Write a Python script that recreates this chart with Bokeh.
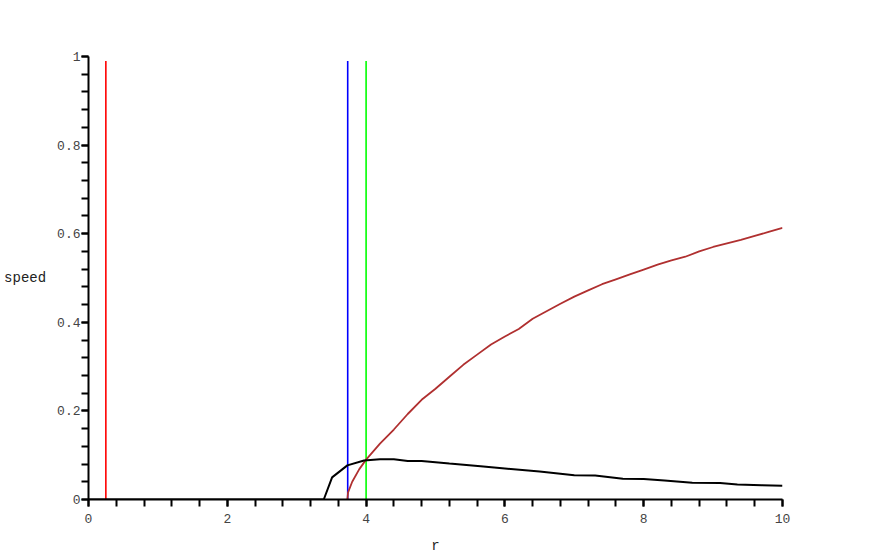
from bokeh.plotting import figure
from bokeh.models import Range1d, SingleIntervalTicker, NumeralTickFormatter
from bokeh.embed import file_html
from bokeh.resources import INLINE

# Red (brown) curve
red_r = [3.73, 3.74, 3.8, 3.9, 4.0, 4.2, 4.4, 4.6, 4.8, 5.0, 5.2, 5.4, 5.6, 5.8, 6.0,
         6.2, 6.4, 6.6, 6.8, 7.0, 7.2, 7.4, 7.6, 7.8, 8.0, 8.2, 8.4, 8.6, 8.8, 9.0,
         9.2, 9.4, 9.6, 9.8, 10.0]
red_speed = [0.0, 0.016, 0.04, 0.068, 0.09, 0.126, 0.158, 0.193, 0.225, 0.25, 0.277,
             0.304, 0.327, 0.35, 0.368, 0.385, 0.408, 0.425, 0.442, 0.458, 0.472,
             0.486, 0.497, 0.508, 0.519, 0.53, 0.54, 0.548, 0.56, 0.57, 0.578,
             0.586, 0.595, 0.604, 0.613]

# Black curve
black_r = [0.0, 3.39, 3.51, 3.73, 3.97, 4.2, 4.4, 4.6, 4.8, 5.2, 5.65, 6.0, 6.5, 7.0,
           7.3, 7.7, 8.0, 8.3, 8.7, 9.1, 9.35, 9.7, 10.0]
black_speed = [0.0, 0.0, 0.05, 0.077, 0.088, 0.091, 0.091, 0.087, 0.087, 0.081, 0.075,
               0.07, 0.063, 0.055, 0.054, 0.047, 0.046, 0.043, 0.038, 0.037, 0.034,
               0.032, 0.031]

# Vertical marker lines
vline_r = [0.25, 3.735, 4.0]
vline_top = [0.99, 0.99, 0.99]
vline_colors = ["#FF0000", "#0000FF", "#00FF00"]

x_major = 2
y_major = 0.2

p = figure(width=862, height=556, output_backend="svg", toolbar_location=None,
           x_range=Range1d(0, 10), y_range=Range1d(0, 1),
           min_border_left=88, min_border_right=80, min_border_top=56,
           min_border_bottom=56)
p.outline_line_color = None
p.xgrid.visible = False
p.ygrid.visible = False

for xr, top, c in zip(vline_r, vline_top, vline_colors):
    p.segment(x0=[xr], y0=[0], x1=[xr], y1=[top], line_color=c, line_width=1.6)

p.line(red_r, red_speed, line_color="#B03030", line_width=1.8)
p.line(black_r, black_speed, line_color="#000000", line_width=2)

font = "Liberation Mono"
p.xaxis.ticker = SingleIntervalTicker(interval=x_major, num_minor_ticks=5)
p.yaxis.ticker = SingleIntervalTicker(interval=y_major, num_minor_ticks=5)
p.yaxis.formatter = NumeralTickFormatter(format="0.[0]")
for ax in (p.xaxis, p.yaxis):
    ax.axis_line_width = 2
    ax.axis_line_color = "black"
    ax.major_tick_line_width = 2
    ax.minor_tick_line_width = 2
    ax.major_tick_in = 0
    ax.minor_tick_in = 0
    ax.major_tick_out = 7
    ax.minor_tick_out = 7
    ax.major_label_text_font = font
    ax.major_label_text_font_size = "13px"
    ax.major_label_text_color = "#444444"
    ax.axis_label_text_font = font
    ax.axis_label_text_font_size = "14px"
    ax.axis_label_text_font_style = "normal"
    ax.axis_label_text_color = "#222222"

p.xaxis.axis_label = "r"
p.xaxis.major_label_standoff = 7
p.xaxis.axis_label_standoff = 12
p.yaxis.axis_label = "speed"
p.yaxis.axis_label_orientation = "horizontal"
p.yaxis.major_label_standoff = 1
p.yaxis.axis_label_standoff = 8

open("out.html", "w").write(file_html(p, INLINE))
